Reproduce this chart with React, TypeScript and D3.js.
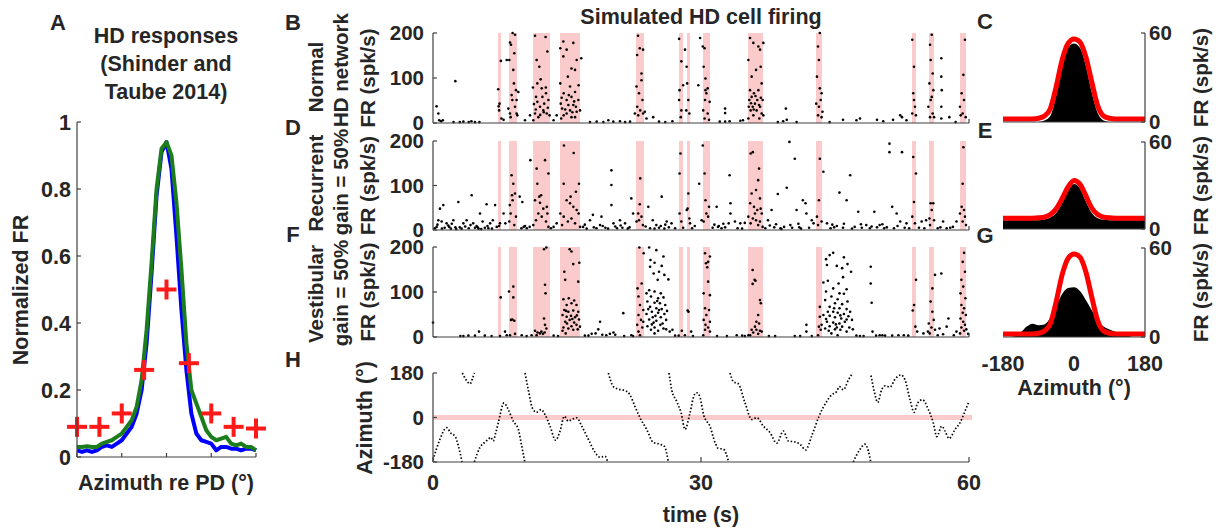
import React from 'react';
import * as d3 from 'd3';

const FONT = '"Liberation Sans", Arial, Helvetica, sans-serif';
const INK = '#262626';
const AXIS = '#404040';
const PINK = '#fbcaca';
const TICK = 20.5;

// ---- panel A: HD responses (Shinder and Taube 2014)
const aAzimuth = [-180, -170, -160, -150, -140, -130, -120, -110, -100, -90, -80, -70, -60, -50, -40, -30, -20, -10, 0,
  10, 20, 30, 40, 50, 60, 70, 80, 90, 100, 110, 120, 130, 140, 150, 160, 170, 180];
const aBlueFR = [0.02, 0.015, 0.02, 0.015, 0.02, 0.03, 0.035, 0.03, 0.04, 0.05, 0.07, 0.09, 0.13, 0.2, 0.34, 0.55, 0.78, 0.91, 0.94,
  0.86, 0.66, 0.44, 0.26, 0.13, 0.07, 0.05, 0.045, 0.04, 0.02, 0.03, 0.03, 0.025, 0.025, 0.02, 0.025, 0.025, 0.02];
const aGreenFR = [0.03, 0.03, 0.032, 0.03, 0.03, 0.04, 0.045, 0.05, 0.06, 0.07, 0.09, 0.11, 0.15, 0.23, 0.38, 0.58, 0.8, 0.92, 0.94,
  0.9, 0.76, 0.56, 0.34, 0.2, 0.16, 0.12, 0.08, 0.06, 0.05, 0.055, 0.06, 0.04, 0.035, 0.04, 0.03, 0.03, 0.02];
const aCrossAzimuth = [-180, -135, -90, -45, 0, 45, 90, 135, 180];
const aCrossFR = [0.09, 0.09, 0.13, 0.26, 0.5, 0.28, 0.13, 0.09, 0.085];
const aTicksY = [0, 0.2, 0.4, 0.6, 0.8, 1];
const aTicksX = [-180, -90, 0, 90, 180];

// ---- rasters B, D, F
const timeTicks = [0, 30, 60];
const frTicks = [0, 100, 200];
const pdBands = [[7.28, 7.61], [8.51, 9.4], [11.19, 13.1], [14.22, 16.46], [22.72, 23.62], [27.54, 27.99], [28.43, 28.77],
  [30.22, 31.01], [35.26, 36.94], [42.87, 43.54], [53.62, 54.07], [55.52, 56.08], [58.99, 59.66]];

const spikesNormal = [
  [0.4, 37], [0.6, 21], [0.7, 6], [0.9, 4], [1.1, 6], [2.3, 2], [2.5, 93], [3.0, 2], [3.4, 3], [4.0, 2], [4.3, 4], [4.7, 2], [5.2, 2],
  [7.3, 75], [7.35, 37], [7.45, 43], [7.4, 28], [7.6, 138], [7.65, 10], [7.9, 7],
  [8.25, 140], [8.43, 32], [8.54, 140], [8.62, 179], [8.62, 21], [8.69, 13], [8.73, 174], [8.8, 62], [8.88, 51], [8.91, 200],
  [8.99, 118], [9.06, 88], [9.1, 155], [9.18, 196], [9.18, 36], [9.29, 73], [9.36, 51], [9.36, 21], [9.44, 17], [9.55, 69],
  [10.3, 6], [10.86, 17],
  [11.19, 79], [11.23, 6], [11.42, 194], [11.42, 21], [11.53, 58], [11.6, 140], [11.68, 88], [11.68, 47], [11.79, 13], [11.9, 125],
  [11.98, 36], [12.05, 97], [12.17, 77], [12.25, 58], [12.35, 28], [12.45, 43], [12.6, 191], [12.63, 79], [12.65, 66], [12.74, 21],
  [12.8, 159], [12.92, 51], [13.05, 17], [13.5, 6], [13.84, 17], [11.5, 30], [12.0, 18], [12.4, 24], [12.85, 34], [11.3, 42],
  [14.25, 166], [14.25, 88], [14.3, 43], [14.35, 10], [14.45, 32], [14.59, 181], [14.59, 148], [14.63, 66], [14.63, 17], [14.96, 163],
  [14.96, 51], [14.96, 21], [15.1, 103], [15.15, 40], [15.34, 81], [15.34, 28], [15.5, 121], [15.5, 58], [15.5, 13], [15.71, 178],
  [15.71, 40], [15.9, 118], [15.9, 69], [15.9, 13], [16.08, 140], [16.08, 25], [16.3, 84], [16.27, 51], [16.46, 28], [16.6, 144],
  [14.8, 30], [15.2, 62], [15.6, 24], [16.0, 36], [14.4, 56], [15.8, 48],
  [17.57, 2], [18.32, 3], [19.07, 2], [19.63, 6], [20.19, 3], [20.93, 4], [21.5, 2], [22.06, 3],
  [22.6, 21], [22.78, 81], [22.85, 151], [22.95, 194], [22.97, 17], [22.86, 36], [23.06, 66], [23.15, 166], [23.2, 28], [23.34, 110],
  [23.34, 95], [23.45, 51], [23.52, 163], [23.52, 21], [23.71, 25], [23.9, 10], [24.65, 13],
  [25.3, 3], [26.0, 2], [26.8, 4],
  [27.55, 187], [27.6, 73], [27.55, 51], [27.73, 13], [27.8, 137], [27.8, 28], [28.0, 84],
  [28.21, 163], [28.35, 28], [28.39, 125], [28.45, 88], [28.58, 51], [28.7, 21], [29.7, 84],
  [29.9, 189], [30.2, 170], [30.25, 28], [30.3, 125], [30.4, 166], [30.4, 10], [30.45, 51], [30.5, 99], [30.5, 73], [30.6, 66],
  [30.75, 77], [30.75, 21], [30.9, 7], [30.97, 47],
  [32.1, 3], [32.7, 32], [32.7, 22], [32.7, 3], [33.2, 4], [34.4, 5], [34.7, 6],
  [35.3, 140], [35.3, 10], [35.35, 36], [35.41, 51], [35.49, 189], [35.49, 73], [35.56, 28], [35.67, 58], [35.67, 103], [35.79, 36],
  [35.86, 178], [35.86, 17], [35.93, 66], [36.04, 43], [36.16, 118], [36.23, 28], [36.3, 51], [36.42, 170], [36.42, 73], [36.53, 10],
  [36.61, 163], [36.61, 36], [36.68, 125], [36.79, 88], [36.79, 21], [36.9, 51], [36.98, 178], [36.98, 17],
  [35.6, 44], [36.1, 60], [36.5, 40], [35.9, 30], [36.7, 56],
  [38.6, 2], [39.2, 4], [39.5, 32], [39.6, 7], [40.7, 2],
  [42.9, 43], [42.98, 103], [43.1, 170], [43.1, 17], [43.2, 140], [43.2, 36], [43.3, 200], [43.3, 77], [43.4, 51], [43.5, 66],
  [43.5, 13], [43.6, 25],
  [44.4, 2], [45.9, 7], [47.4, 6], [47.8, 10], [49.7, 7], [50.4, 4], [51.5, 7], [52.3, 17], [52.5, 13], [53.0, 6],
  [53.65, 185], [53.65, 21], [53.76, 66], [53.84, 125], [53.84, 51], [53.95, 36], [54.06, 17],
  [55.45, 36], [55.57, 88], [55.64, 174], [55.64, 13], [55.71, 140], [55.71, 51], [55.83, 196], [55.83, 58], [55.94, 110],
  [55.94, 21], [56.01, 73], [56.09, 13],
  [56.9, 144], [56.9, 103], [56.95, 73], [56.9, 36], [56.9, 10], [57.8, 13], [58.5, 2],
  [58.99, 36], [59.07, 17], [59.18, 66], [59.29, 21], [59.37, 107], [59.44, 51], [59.55, 185], [59.63, 13],
];

const spikesRecurrent = [
  [0.2, 4], [0.41, 7], [0.6, 22], [0.78, 48], [0.97, 19], [1.15, 56], [1.3, 5], [1.52, 15], [1.82, 7], [2.0, 3], [2.28, 22],
  [2.5, 6], [2.84, 63], [3.0, 6], [3.2, 3], [3.4, 15], [3.77, 22], [4.0, 4], [4.33, 78], [4.5, 15], [4.7, 5], [4.88, 9], [5.1, 3],
  [5.26, 37], [5.55, 19], [5.8, 5], [6.0, 58], [6.2, 4], [6.4, 15], [6.7, 22], [6.95, 56], [7.13, 7],
  [0.5, 12], [1.0, 3], [1.7, 10], [2.1, 14], [2.6, 2], [3.6, 8], [4.2, 11], [5.0, 6], [5.4, 2], [6.1, 9], [6.6, 3],
  [7.4, 9], [7.5, 15], [7.9, 37], [8.1, 15],
  [8.54, 19], [8.6, 56], [8.69, 37], [8.8, 123], [8.84, 78], [8.91, 67], [8.99, 104], [9.1, 11], [9.18, 82], [9.29, 30],
  [9.7, 75], [10.0, 63], [10.15, 7], [10.5, 4], [10.82, 7], [10.9, 157], [9.9, 4], [10.3, 9],
  [11.23, 11], [11.42, 67], [11.53, 22], [11.6, 138], [11.68, 104], [11.79, 37], [11.9, 75], [11.98, 61], [12.1, 78], [12.17, 30],
  [12.35, 48], [12.54, 157], [12.65, 19], [12.74, 52], [12.8, 37], [12.92, 127], [12.92, 7],
  [13.5, 7], [13.84, 15], [13.2, 4],
  [14.25, 37], [14.45, 11], [14.63, 104], [14.63, 30], [14.66, 190], [14.96, 67], [15.1, 19], [15.34, 60], [15.4, 75], [15.5, 26],
  [15.71, 52], [15.75, 173], [15.9, 15], [16.0, 86], [16.08, 45], [16.3, 37], [16.34, 104], [16.46, 7],
  [16.8, 7], [17.2, 3], [17.57, 22], [17.9, 34], [18.3, 4], [18.7, 11], [18.86, 30], [19.3, 5], [19.97, 134], [19.97, 101],
  [19.97, 56], [20.2, 15], [20.6, 4], [20.93, 22], [21.2, 5], [21.5, 15], [21.8, 3], [22.2, 71], [22.4, 37],
  [17.0, 12], [18.0, 6], [19.0, 9], [19.6, 3], [20.4, 8], [21.0, 10], [22.0, 6],
  [22.78, 19], [22.97, 37], [23.06, 22], [23.15, 58], [23.2, 116], [23.34, 30], [23.5, 11],
  [24.1, 52], [24.3, 4], [24.6, 22], [25.0, 11], [25.3, 5], [25.6, 75], [25.9, 3], [26.16, 19], [26.4, 6], [26.7, 15], [27.1, 4],
  [23.8, 8], [24.8, 3], [25.5, 9], [26.0, 12],
  [27.6, 127], [27.6, 37], [27.7, 172], [27.8, 19], [28.0, 5], [28.4, 45], [28.5, 48], [28.58, 82], [28.7, 26], [28.77, 15],
  [29.0, 4], [29.3, 9], [29.8, 104], [30.07, 22],
  [30.2, 190], [30.3, 19], [30.4, 127], [30.5, 67], [30.6, 37], [30.8, 30], [30.9, 52],
  [31.3, 5], [31.75, 52], [31.9, 7], [32.3, 4], [32.7, 6], [33.1, 15], [33.2, 123], [33.3, 60], [33.3, 37], [33.8, 19], [34.1, 4],
  [34.4, 15], [34.9, 16], [31.5, 12], [32.0, 9], [32.5, 14], [34.6, 3],
  [35.3, 30], [35.5, 60], [35.56, 172], [35.56, 15], [35.67, 82], [35.8, 175], [35.8, 26], [35.93, 52], [36.04, 37], [36.16, 90],
  [36.16, 22], [36.3, 45], [36.4, 112], [36.4, 11], [36.5, 138], [36.6, 71], [36.6, 19], [36.68, 48], [36.8, 37], [36.9, 7],
  [37.2, 4], [37.5, 22], [37.9, 45], [38.2, 6], [38.6, 81], [38.9, 4], [39.3, 7], [39.6, 95], [39.9, 198], [40.2, 5], [40.5, 160],
  [40.7, 45], [41.0, 6], [41.4, 67], [41.7, 60], [41.8, 37], [42.1, 5], [42.4, 22], [42.6, 15],
  [37.7, 10], [38.4, 13], [39.0, 2], [40.0, 11], [40.9, 14], [41.2, 3],
  [42.98, 30], [43.1, 11], [43.2, 67], [43.3, 160], [43.5, 19], [43.7, 131],
  [44.1, 15], [44.5, 4], [44.9, 6], [45.5, 84], [45.9, 5], [46.3, 67], [46.7, 123], [47.2, 7], [47.6, 41], [48.0, 5], [48.5, 11],
  [48.9, 4], [49.4, 41], [49.7, 6], [50.0, 11], [50.5, 4], [51.1, 194], [51.1, 175], [51.4, 52], [51.9, 37], [52.3, 19],
  [52.5, 175], [52.8, 5], [53.0, 15], [53.3, 4],
  [44.7, 12], [45.2, 9], [46.0, 14], [46.9, 3], [47.9, 13], [49.1, 8], [50.3, 13], [50.8, 6], [51.6, 4], [52.0, 9],
  [53.65, 30], [53.76, 164], [53.84, 63], [53.95, 15], [54.06, 127],
  [54.4, 5], [54.7, 19], [55.0, 4], [55.2, 22],
  [55.57, 26], [55.64, 11], [55.71, 60], [55.83, 45], [56.0, 60], [56.09, 22],
  [56.5, 4], [56.8, 6], [57.1, 19], [57.5, 4], [57.9, 5], [58.2, 7], [58.6, 19],
  [58.99, 37], [59.18, 52], [59.29, 104], [59.29, 19], [59.37, 186], [59.44, 45], [59.55, 30], [59.66, 11],
];

const spikesVestibular = [
  [0.0, 32], [3.06, 2], [3.4, 2], [3.96, 3], [4.7, 3], [5.15, 12], [5.8, 3], [6.56, 2],
  [7.5, 2], [7.58, 88], [8.06, 12], [8.25, 4],
  [8.51, 101], [8.62, 4], [8.73, 38], [8.88, 39], [8.99, 112], [8.99, 88], [9.1, 36], [9.18, 7],
  [9.93, 4], [10.48, 2], [11.04, 4],
  [11.42, 14], [11.6, 4], [11.7, 10], [11.97, 8], [12.13, 12], [12.3, 7], [12.43, 195], [12.43, 41], [12.5, 10], [12.54, 116],
  [12.54, 27], [12.6, 97], [12.69, 199], [12.69, 19],
  [13.5, 3], [14.0, 2],
  [14.5, 49], [14.5, 14], [14.6, 84], [14.6, 21], [14.7, 145], [14.7, 60], [14.8, 127], [14.8, 34], [14.85, 8], [14.96, 71],
  [14.96, 45], [15.15, 56], [15.15, 19], [15.2, 86], [15.3, 195], [15.3, 38], [15.45, 47], [15.5, 190], [15.5, 75], [15.5, 24],
  [15.7, 162], [15.7, 59], [15.7, 16], [15.8, 81], [15.8, 32], [15.9, 44], [16.06, 71], [16.06, 27], [16.2, 17], [16.26, 123],
  [16.26, 56], [16.34, 39], [16.38, 165], [16.45, 23], [15.0, 30], [15.6, 40], [16.1, 48], [14.9, 58],
  [17.0, 3], [17.4, 3], [17.76, 7], [18.2, 8], [18.5, 17], [18.7, 34], [18.95, 5], [19.4, 4], [19.8, 7], [20.2, 10], [20.4, 5],
  [21.3, 53], [21.4, 2], [22.2, 4], [22.4, 2],
  [22.86, 27], [22.9, 108], [23.0, 90], [23.0, 49], [23.0, 12], [23.1, 199], [23.17, 71], [23.17, 4], [23.28, 38], [23.36, 119],
  [23.43, 21], [23.54, 60], [23.54, 34], [23.58, 186],
  [24.2, 199], [25.0, 193], [24.35, 171], [25.8, 179], [24.8, 165], [24.3, 156], [25.6, 158], [25.3, 145], [24.7, 141],
  [25.9, 138], [25.15, 127], [26.35, 128], [24.2, 104], [23.9, 97], [24.8, 101], [25.5, 97], [24.4, 90], [25.2, 86], [25.8, 88],
  [24.0, 79], [24.8, 76], [25.4, 75], [26.0, 71], [24.3, 67], [25.0, 64], [25.6, 62], [24.5, 56], [25.2, 54], [25.9, 51],
  [23.9, 51], [24.9, 47], [25.5, 44], [24.2, 39], [25.0, 36], [26.1, 38], [24.7, 32], [25.45, 27], [24.0, 24], [24.8, 21],
  [25.8, 19], [24.4, 16], [25.2, 14], [26.1, 17], [24.8, 8], [26.5, 12], [26.8, 16], [24.6, 44], [25.3, 60], [24.1, 62],
  [25.7, 30], [26.2, 58], [24.5, 28], [25.1, 80],
  [27.1, 3], [27.5, 3], [27.85, 14], [28.2, 4], [28.5, 59], [28.6, 56], [28.9, 12], [29.1, 2],
  [30.25, 4], [30.3, 97], [30.3, 38], [30.45, 186], [30.45, 64], [30.45, 16], [30.5, 27], [30.56, 164], [30.6, 49], [30.7, 155],
  [30.8, 167], [30.8, 123], [30.8, 21], [30.9, 60], [31.0, 179], [31.0, 93], [31.0, 34], [31.0, 12],
  [31.8, 2], [32.9, 2], [34.0, 4], [34.6, 3], [34.9, 2], [35.3, 4],
  [35.5, 4], [35.67, 16], [35.78, 149], [35.78, 118], [35.85, 10], [36.0, 127], [36.04, 23], [36.1, 125], [36.2, 34], [36.2, 16],
  [36.4, 49], [36.4, 7], [36.5, 30], [36.6, 82], [36.6, 14], [36.7, 75], [36.8, 12],
  [37.6, 2], [38.3, 2], [40.5, 2], [41.1, 2], [41.8, 27], [41.8, 12], [42.4, 2],
  [43.1, 4], [43.2, 23], [43.3, 67], [43.3, 45], [43.4, 16],
  [44.8, 187], [44.4, 182], [44.0, 173], [46.0, 177], [44.1, 160], [45.2, 158], [46.4, 162], [45.8, 153], [46.8, 145],
  [43.7, 121], [44.2, 125], [45.4, 119], [44.8, 108], [45.9, 133], [46.3, 106], [44.0, 101], [45.5, 97], [46.0, 96], [44.6, 90],
  [45.3, 84], [43.9, 82], [46.4, 79], [45.0, 75], [45.8, 73], [44.4, 67], [45.5, 64], [46.3, 62], [44.8, 56], [45.3, 54],
  [46.0, 51], [46.7, 56], [43.7, 49], [44.4, 47], [45.0, 44], [45.7, 41], [46.3, 39], [46.9, 38], [44.1, 34], [44.8, 32],
  [45.5, 30], [46.1, 34], [43.5, 27], [44.4, 24], [45.2, 21], [45.8, 23], [46.6, 21], [43.9, 19], [45.0, 17], [45.6, 16],
  [44.3, 14], [46.3, 12], [47.0, 17], [44.6, 8], [45.3, 4], [47.4, 3], [47.8, 2], [44.9, 64], [45.6, 48], [44.2, 56],
  [46.5, 46], [45.1, 28], [44.0, 40],
  [48.2, 2], [49.0, 156], [49.0, 119], [49.1, 76], [49.2, 12], [49.6, 3], [50.0, 4], [50.3, 4], [50.6, 3], [51.4, 3], [52.1, 4],
  [52.7, 4], [53.2, 3],
  [53.7, 59], [53.85, 71], [54.0, 23], [54.07, 127], [54.2, 12], [54.9, 8], [55.4, 12],
  [55.5, 30], [55.6, 8], [55.7, 79], [55.8, 21], [55.9, 108], [55.9, 56], [56.05, 38], [56.2, 138], [56.2, 16], [56.5, 4],
  [56.7, 19], [56.9, 141], [57.1, 6], [57.5, 23], [57.7, 41],
  [58.3, 4], [58.6, 12],
  [59.0, 8], [59.05, 97], [59.05, 41], [59.15, 127], [59.15, 71], [59.15, 21], [59.3, 167], [59.3, 54], [59.35, 112], [59.35, 34],
  [59.45, 187], [59.45, 64], [59.45, 14], [59.55, 145], [59.55, 27], [59.6, 86], [59.65, 49], [59.7, 17], [59.9, 7],
];

// ---- panel H: head direction over time, one list per unwrapped piece
const azTicks = [-180, 0, 180];
const headingPieces = [
  [[0, -172], [0.78, -88], [1.53, -41], [2.01, -64], [2.46, -75], [2.84, -115], [3.25, -180]],
  [[3.28, 180], [3.75, 150], [4.14, 136], [4.4, 155], [4.63, 180]],
  [[4.63, -180], [5.26, -121], [5.8, -100], [6.2, -88], [6.45, -80], [6.75, -95], [7.0, -65], [7.31, -21], [7.95, 59],
    [8.43, 32], [8.99, -15], [9.55, -48], [9.93, -115], [10.28, -180]],
  [[10.3, 180], [10.67, 112], [11.12, 39], [11.6, 21], [12.09, 32], [12.54, 12], [13.1, -35], [13.73, -92], [14.22, -55],
    [14.7, 5], [15.15, -15], [15.53, -8], [16.09, -1], [16.65, -35], [17.39, -88], [18.14, -141], [18.7, -161], [19.26, -157],
    [19.56, -180]],
  [[19.63, 180], [20.19, 125], [20.75, 115], [21.5, 109], [22.05, 92], [22.6, 45], [23.17, -1], [23.92, -48], [24.66, -101],
    [25.41, -108], [25.9, -117], [26.35, -180]],
  [[26.42, 180], [26.72, 112], [27.28, 65], [27.77, 19], [28.21, -48], [28.77, 19], [29.26, 92], [29.55, 100], [29.9, 80],
    [30.3, 10], [31.0, -35], [31.57, -101], [31.94, -125], [32.5, -128], [33.1, -180]],
  [[33.25, 180], [33.62, 145], [34.18, 136], [34.93, 59], [35.68, -8], [36.24, -1], [36.98, -35], [37.73, -61], [38.48, -104],
    [39.22, -55], [39.78, -95], [40.52, -99], [41.08, -108], [41.72, -131], [42.39, -75], [43.21, 5], [44.07, 65], [44.63, 92],
    [45.19, 105], [45.49, 125], [45.94, 112], [46.5, 152], [46.98, 180]],
  [[47.05, -180], [47.8, -128], [48.36, -108], [48.73, -135], [49.0, -180]],
  [[49.03, 170], [49.4, 105], [49.78, 61], [50.22, 112], [50.6, 128], [51.16, 123], [51.72, 155], [52.39, 172], [52.84, 152],
    [53.4, 72], [53.85, 21], [54.26, 59], [54.78, 72], [55.45, 32], [56.0, -21], [56.39, -77], [56.95, -35], [57.32, -55],
    [57.77, -85], [58.44, -48], [59.0, -21], [59.48, 19], [60.0, 65]],
];

// ---- panels C, E, G: tuning curves
const tuneAzimuth = [-180, -165, -150, -135, -120, -105, -90, -75, -60, -45, -30, -15, 0, 15, 30, 45, 60, 75, 90, 105, 120, 135, 150, 165, 180];
const tuneTicksX = [-180, 0, 180];
const tuneTicksY = [0, 60];
const fitNormal = [2, 2, 2, 2, 2, 2, 2.5, 4, 9, 24, 42, 53, 56, 54, 44, 27, 11, 4, 2.5, 2, 2, 2, 2, 2, 2];
const histNormal = [0, 0, 0, 0, 0, 0, 0, 1, 4, 18, 38, 50, 53, 50, 38, 20, 6, 1, 0, 0, 0, 0, 0, 0, 0];
const fitRecurrent = [7.5, 7.5, 7.5, 7.5, 7.5, 7.5, 7.7, 8.2, 10, 14, 21, 29, 33.5, 31, 23, 14.5, 10, 8.2, 7.7, 7.5, 7.5, 7.5, 7.5, 7.5, 7.5];
const histRecurrent = [6, 6, 6, 6, 6, 6, 6, 6.5, 8, 11, 18, 27, 31, 28, 19, 11, 7.5, 6.5, 6, 6, 6, 6, 6, 6, 6];
const fitVestibular = [2, 2, 2, 2, 2, 2, 2.5, 4, 9, 24, 42, 53, 56, 54, 44, 27, 11, 4, 2.5, 2, 2, 2, 2, 2, 2];
const histVestibular = [0, 0, 0.5, 3, 7, 9, 8, 8.5, 13, 21, 29, 33, 33.5, 31, 25, 18, 11, 7, 5, 3.5, 2, 1, 0, 0, 0];

function T(props) {
  const { x, y, children, anchor = 'middle', rot = false, size = 21.5 } = props
  return (
    <text x={x} y={y} textAnchor={anchor} fontSize={size} fontWeight="bold" fontFamily={FONT} fill={INK}
      transform={rot ? `rotate(-90 ${x} ${y})` : undefined}>{children}</text>
  )
}

function PanelA() {
  const x = d3.scaleLinear().domain([-180, 180]).range([77, 256])
  const y = d3.scaleLinear().domain([0, 1]).range([457, 122])
  const line = d3.line<number>().x((_, i) => x(aAzimuth[i])).y(d => y(d))
  return (
    <g>
      <path d={line(aBlueFR)} fill="none" stroke="#0000ff" strokeWidth={4} strokeLinejoin="round" />
      <path d={line(aGreenFR)} fill="none" stroke="#1b7d1b" strokeWidth={4} strokeLinejoin="round" />
      {aCrossAzimuth.map((az, i) => (
        <g key={i} stroke="#ff1a1a" strokeWidth={4}>
          <line x1={x(az) - 10} x2={x(az) + 10} y1={y(aCrossFR[i])} y2={y(aCrossFR[i])} />
          <line x1={x(az)} x2={x(az)} y1={y(aCrossFR[i]) - 10} y2={y(aCrossFR[i]) + 10} />
        </g>
      ))}
      <g stroke={AXIS} strokeWidth={1.2}>
        <line x1={77} x2={77} y1={122} y2={457} />
        <line x1={77} x2={256} y1={457} y2={457} />
        {aTicksY.map(v => <line key={v} x1={77} x2={81} y1={y(v)} y2={y(v)} />)}
        {aTicksX.map(v => <line key={v} x1={x(v)} x2={x(v)} y1={457} y2={453} />)}
      </g>
      {aTicksY.map(v => <T key={v} x={71} y={y(v) + 7.5} anchor="end" size={21.5}>{String(v)}</T>)}
      <T x={58} y={30} size={22}>A</T>
      <T x={166} y={43}>HD responses</T>
      <T x={166} y={71}>(Shinder and</T>
      <T x={166} y={99}>Taube 2014)</T>
      <T x={28} y={290} rot>Normalized FR</T>
      <T x={166} y={490}>Azimuth re PD (°)</T>
    </g>
  )
}

const tx = d3.scaleLinear().domain([0, 60]).range([433, 969])

function Raster(props) {
  const { top, bottom, spikes } = props
  const y = d3.scaleLinear().domain([0, 200]).range([bottom, top])
  return (
    <g>
      {pdBands.map(([a, b], i) => (
        <rect key={i} x={tx(a)} y={top} width={tx(b) - tx(a)} height={bottom - top} fill={PINK} />
      ))}
      {spikes.map(([t, f], i) => <circle key={i} cx={tx(t)} cy={y(f)} r={1.3} fill="#000" />)}
      <g stroke={AXIS} strokeWidth={1.2}>
        <line x1={433} x2={433} y1={top} y2={bottom} />
        <line x1={433} x2={969} y1={bottom} y2={bottom} />
        {frTicks.map(v => <line key={v} x1={433} x2={437} y1={y(v)} y2={y(v)} />)}
        <line x1={969} x2={969} y1={bottom} y2={bottom - 4} />
      </g>
      {frTicks.map(v => <T key={v} x={424} y={y(v) + 7} anchor="end" size={TICK}>{String(v)}</T>)}
      <T x={375} y={(top + bottom) / 2} rot size={20.5}>FR (spk/s)</T>
    </g>
  )
}

function PanelH() {
  const y = d3.scaleLinear().domain([-180, 180]).range([462, 373])
  const line = d3.line<number[]>().x(d => tx(d[0])).y(d => y(d[1])).curve(d3.curveMonotoneX)
  return (
    <g>
      <clipPath id="hclip"><rect x={433} y={372} width={537} height={91} /></clipPath>
      <line x1={433} x2={972} y1={y(0)} y2={y(0)} stroke={PINK} strokeWidth={5} />
      <g clipPath="url(#hclip)">
        {headingPieces.map((p, i) => (
          <path key={i} d={line(p)} fill="none" stroke="#000" strokeWidth={1.7} strokeDasharray="1.5 2" />
        ))}
      </g>
      <g stroke={AXIS} strokeWidth={1.2}>
        <line x1={433} x2={433} y1={373} y2={462} />
        <line x1={433} x2={969} y1={462} y2={462} />
        {azTicks.map(v => <line key={v} x1={433} x2={437} y1={y(v)} y2={y(v)} />)}
        {timeTicks.map(v => <line key={v} x1={tx(v)} x2={tx(v)} y1={462} y2={457} />)}
      </g>
      {azTicks.map(v => <T key={v} x={424} y={y(v) + 7} anchor="end" size={TICK}>{String(v)}</T>)}
      {timeTicks.map(v => <T key={v} x={tx(v)} y={490}>{String(v)}</T>)}
      <T x={372} y={418} rot>Azimuth (°)</T>
      <T x={701} y={522}>time (s)</T>
    </g>
  )
}

function Tuning(props) {
  const { top, bottom, fit, hist, showX } = props
  const x = d3.scaleLinear().domain([-180, 180]).range([1003, 1145])
  const y = d3.scaleLinear().domain([0, 60]).range([bottom, top])
  const area = d3.area<number>().x((_, i) => x(tuneAzimuth[i])).y0(bottom).y1(d => y(d)).curve(d3.curveMonotoneX)
  const line = d3.line<number>().x((_, i) => x(tuneAzimuth[i])).y(d => y(d)).curve(d3.curveMonotoneX)
  return (
    <g>
      <path d={area(hist)} fill="#000" />
      <path d={line(fit)} fill="none" stroke="#ff0000" strokeWidth={5} strokeLinejoin="round" />
      <g stroke={AXIS} strokeWidth={1.2}>
        <line x1={1145} x2={1145} y1={top} y2={bottom} />
        <line x1={1003} x2={1145} y1={bottom} y2={bottom} />
        {tuneTicksY.map(v => <line key={v} x1={1141} x2={1145} y1={y(v)} y2={y(v)} />)}
      </g>
      {tuneTicksY.map(v => <T key={v} x={1149} y={y(v) + 7} anchor="start" size={TICK}>{String(v)}</T>)}
      <T x={1208} y={(top + bottom) / 2} rot size={20.5}>FR (spk/s)</T>
      {showX && tuneTicksX.map(v => <T key={v} x={x(v)} y={371}>{String(v)}</T>)}
    </g>
  )
}

export default function App() {
  return (
    <svg width={1227} height={529} style={{ position: 'absolute', left: 0, top: 0, display: 'block', background: '#fff' }}>
      <PanelA />
      <T x={701} y={24}>Simulated HD cell firing</T>
      <Raster top={33} bottom={123} spikes={spikesNormal} />
      <Raster top={141} bottom={230} spikes={spikesRecurrent} />
      <Raster top={247} bottom={337} spikes={spikesVestibular} />
      <PanelH />
      <T x={323} y={77} rot size={20.5}>Normal</T>
      <T x={348} y={70} rot size={20.5}>HD network</T>
      <T x={323} y={183} rot size={20.5}>Recurrent</T>
      <T x={348} y={182} rot size={20.5}>gain = 50%</T>
      <T x={323} y={294} rot size={20.5}>Vestibular</T>
      <T x={348} y={293} rot size={20.5}>gain = 50%</T>
      <T x={293} y={30} size={22}>B</T>
      <T x={293} y={135} size={22}>D</T>
      <T x={293} y={242} size={22}>F</T>
      <T x={293} y={367} size={22}>H</T>
      <Tuning top={33} bottom={122} fit={fitNormal} hist={histNormal} />
      <Tuning top={142} bottom={229} fit={fitRecurrent} hist={histRecurrent} />
      <Tuning top={248} bottom={337} fit={fitVestibular} hist={histVestibular} showX />
      <T x={985} y={29} size={22}>C</T>
      <T x={985} y={138} size={22}>E</T>
      <T x={985} y={243} size={22}>G</T>
      <T x={1074} y={395}>Azimuth (°)</T>
    </svg>
  )
}
